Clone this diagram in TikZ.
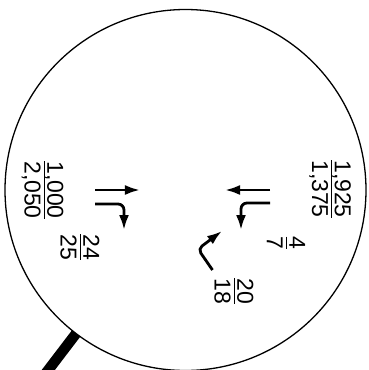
\documentclass[tikz,border=0pt]{standalone}
\usepackage{fontspec}
\setmainfont{Liberation Sans}
\usetikzlibrary{arrows.meta}
\tikzset{
  lens/.style={circle, draw=black, line width=1.3bp, minimum size=361bp, inner sep=0pt},
  handle/.style={line width=10.5bp, black},
  ratio/.style={rotate=-90, inner sep=0pt, font=\fontsize{23bp}{25bp}\selectfont},
  mv/.style={-{Latex[length=15bp,width=10bp]}, line width=2.8bp, black},
  turn/.style={mv, rounded corners=6bp}
}
\newcommand{\fr}[2]{\vbox{\offinterlineskip\halign{\hfil##\hfil\cr%
  \raisebox{0pt}[\height][0pt]{#1}\cr%
  \noalign{\kern2.8bp\hrule height 1bp\kern2.8bp}%
  \raisebox{0pt}[\height][0pt]{#2}\cr}}}

\begin{document}
\begin{tikzpicture}[x=1bp, y=-1bp]
\clip (0,0) rectangle (369,370);
\fill[white] (0,0) rectangle (369,370);

% handle of the magnifier
\coordinate (hStart) at (76.1,333.5);
\coordinate (hEnd) at (27.9,396.7);
\draw[handle] (hStart) -- (hEnd);
\node[lens] (lens) at (185.5,190) {};

% counts
\node[ratio] (ebAdt) at (44,190) {\fr{1,000}{2,050}};
\node[ratio] (ebRt) at (80,247) {\fr{24}{25}};
\node[ratio] (wbAdt) at (331.5,189) {\fr{1,925}{1,375}};
\node[ratio] (wbLt) at (286,243) {\fr{4}{7}};
\node[ratio] (nbLt) at (234,291) {\fr{20}{18}};

% eastbound movements
\coordinate (ebT0) at (95,190);
\coordinate (ebT1) at (140,190);
\coordinate (ebR0) at (95,204);
\coordinate (ebR1) at (124,230);
\draw[mv] (ebT0) -- (ebT1);
\draw[turn] (ebR0) -| (ebR1);

% westbound movements
\coordinate (wbT0) at (270,190);
\coordinate (wbT1) at (225,190);
\coordinate (wbL0) at (270,203);
\coordinate (wbL1) at (241,230);
\draw[mv] (wbT0) -- (wbT1);
\draw[turn] (wbL0) -| (wbL1);

% northbound movement
\coordinate (nbL0) at (212.5,270);
\coordinate (nbL1) at (198,249);
\coordinate (nbL2) at (222,231);
\draw[turn, rounded corners=5bp] (nbL0) -- (nbL1) -- (nbL2);
\end{tikzpicture}
\end{document}
